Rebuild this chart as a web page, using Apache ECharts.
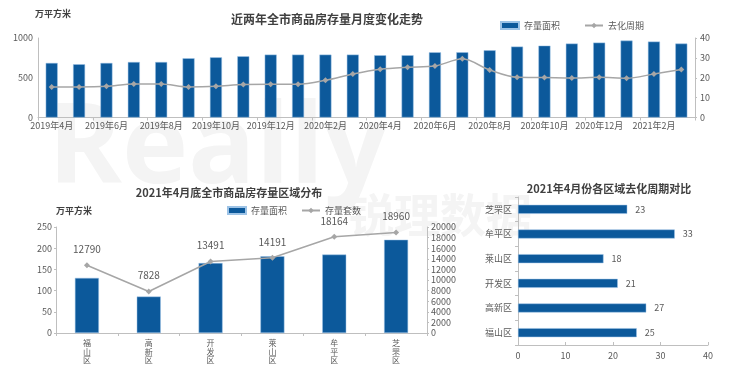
<!DOCTYPE html>
<html><head><meta charset="utf-8">
<script src="https://cdn.jsdelivr.net/npm/echarts@6/dist/echarts.min.js"></script>
<style>html,body{margin:0;padding:0;background:#fff}#c{width:740px;height:386px}</style>
</head><body><div id="c"></div>
<script>
// ---- Data ----
const months = ['2019年4月','2019年5月','2019年6月','2019年7月','2019年8月','2019年9月','2019年10月','2019年11月','2019年12月','2020年1月','2020年2月','2020年3月','2020年4月','2020年5月','2020年6月','2020年7月','2020年8月','2020年9月','2020年10月','2020年11月','2020年12月','2021年1月','2021年2月','2021年3月'];
const stockAreaMonthly = [686,670,686,698,698,745,757,770,791,791,791,791,783,783,820,820,845,892,904,930,942,967,955,930];
const cycleMonthly = [15.4,15.4,15.7,16.9,16.9,15.4,15.7,16.6,16.7,16.7,18.7,21.9,24.3,25.3,25.9,29.5,23.9,20.2,20.1,19.9,20.2,19.7,21.9,24.1];
const districts = ['福山区','高新区','开发区','莱山区','牟平区','芝罘区'];
const stockAreaDistrict = [130,86,165,181,185,220];
const stockUnitsDistrict = [12790,7828,13491,14191,18164,18960];
const cycleDistrict = [25,27,21,18,33,23];

const FONT = '"Noto Sans CJK SC","Noto Sans",sans-serif';
const BLUE = '#0c599b';
const GREY = '#a6a6a6';
const AX = '#bfbfbf';
const TXT = '#595959';
const axisLine = {show:true, lineStyle:{color:AX, width:1}};
const plain = v => String(v);
const lab = {color:TXT, fontSize:9, fontFamily:FONT};
const vlab = {color:TXT, fontSize:9, fontFamily:FONT, formatter:plain};

const chart = echarts.init(document.getElementById('c'), null, {renderer:'canvas'});
chart.setOption({
  animation:false,
  textStyle:{fontFamily:FONT},
  title:[
    {text:'近两年全市商品房存量月度变化走势', left:322, top:8, textAlign:'center',
     textStyle:{fontSize:12, fontWeight:'bold', color:'#404040', fontFamily:FONT}},
    {text:'2021年4月底全市商品房存量区域分布', left:224, top:182, textAlign:'center',
     textStyle:{fontSize:11, fontWeight:'bold', color:'#404040', fontFamily:FONT}},
    {text:'2021年4月份各区域去化周期对比', left:604, top:178, textAlign:'center',
     textStyle:{fontSize:11, fontWeight:'bold', color:'#404040', fontFamily:FONT}}
  ],
  legend:[
    {left:495, top:16, itemWidth:18, itemHeight:7, itemGap:24,
     data:[{name:'存量面积', icon:'rect'}, {name:'去化周期'}],
     textStyle:{fontSize:9, color:TXT, fontFamily:FONT}, selectedMode:false},
    {left:222, top:201, itemWidth:18, itemHeight:7, itemGap:14,
     data:[{name:'存量面积', icon:'rect'}, {name:'存量套数'}],
     textStyle:{fontSize:9, color:TXT, fontFamily:FONT}, selectedMode:false}
  ],
  graphic:[
    {type:'text', left:48, top:95, z:-10, silent:true,
     style:{text:'Really', font:'bold 112px "Open Sans",sans-serif', fill:'#f4f4f4'}},
    {type:'text', left:348, top:192, z:-10, silent:true,
     style:{text:'锐理数据', font:'bold 46px "Noto Sans CJK SC",sans-serif', fill:'#f4f4f4'}},
    {type:'text', left:35, top:9, style:{text:'万平方米', font:'bold 9px "Noto Sans CJK SC",sans-serif', fill:'#404040'}},
    {type:'text', left:56, top:206, style:{text:'万平方米', font:'bold 9px "Noto Sans CJK SC",sans-serif', fill:'#404040'}}
  ],
  grid:[
    {left:38, top:38, width:657, height:79.5},
    {left:56, top:227, width:371, height:106},
    {left:518, top:197, width:190, height:148}
  ],
  xAxis:[
    {type:'category', gridIndex:0, data:months, axisLine:axisLine,
     axisTick:{show:true, interval:1, length:3, lineStyle:{color:AX}},
     axisLabel:Object.assign({interval:1, margin:4}, lab)},
    {type:'category', gridIndex:1, data:districts, axisLine:axisLine,
     axisTick:{show:true, length:3, lineStyle:{color:AX}},
     axisLabel:{margin:6, lineHeight:8.5, fontSize:8, color:TXT, fontFamily:FONT, formatter:v=>v.split('').join('\n')}},
    {type:'value', gridIndex:2, min:0, max:40, interval:10, axisLine:axisLine,
     axisTick:{show:true, inside:true, length:3, lineStyle:{color:AX}},
     splitLine:{show:false}, axisLabel:Object.assign({margin:6}, vlab)}
  ],
  yAxis:[
    {type:'value', gridIndex:0, min:0, max:1000, interval:500, axisLine:axisLine,
     axisTick:{show:false}, splitLine:{show:false}, axisLabel:Object.assign({margin:5}, vlab)},
    {type:'value', gridIndex:0, min:0, max:40, interval:10, position:'right', axisLine:axisLine,
     axisTick:{show:true, length:2, lineStyle:{color:AX}}, splitLine:{show:false}, axisLabel:Object.assign({margin:5}, vlab)},
    {type:'value', gridIndex:1, min:0, max:250, interval:50, axisLine:axisLine,
     axisTick:{show:true, length:2, lineStyle:{color:AX}}, splitLine:{show:false}, axisLabel:Object.assign({margin:4}, vlab)},
    {type:'value', gridIndex:1, min:0, max:20000, interval:2000, position:'right', axisLine:axisLine,
     axisTick:{show:true, length:2, lineStyle:{color:AX}}, splitLine:{show:false}, axisLabel:Object.assign({margin:4}, vlab)},
    {type:'category', gridIndex:2, data:districts, axisLine:axisLine,
     axisTick:{show:true, length:3, lineStyle:{color:AX}},
     axisLabel:Object.assign({margin:6}, lab)}
  ],
  series:[
    {name:'存量面积', type:'bar', xAxisIndex:0, yAxisIndex:0, data:stockAreaMonthly, barWidth:12,
     itemStyle:{color:BLUE, borderColor:'#9dc3e6', borderWidth:0.5}},
    {name:'去化周期', type:'line', xAxisIndex:0, yAxisIndex:1, data:cycleMonthly, smooth:0.3,
     symbol:'diamond', symbolSize:6, lineStyle:{color:GREY, width:1.5}, itemStyle:{color:GREY}},
    {name:'存量面积', type:'bar', xAxisIndex:1, yAxisIndex:2, data:stockAreaDistrict, barWidth:24,
     itemStyle:{color:BLUE, borderColor:'#9dc3e6', borderWidth:0.5}},
    {name:'存量套数', type:'line', xAxisIndex:1, yAxisIndex:3, data:stockUnitsDistrict,
     symbol:'diamond', symbolSize:6, lineStyle:{color:GREY, width:1.5}, itemStyle:{color:GREY},
     label:{show:true, position:'top', distance:8, fontSize:10, color:TXT, fontFamily:FONT, formatter:p=>String(p.value)}},
    {name:'区域去化周期', type:'bar', xAxisIndex:2, yAxisIndex:4, data:cycleDistrict, barWidth:9,
     itemStyle:{color:BLUE, borderColor:'#9dc3e6', borderWidth:0.5},
     label:{show:true, position:'right', distance:8, fontSize:9, color:TXT, fontFamily:FONT}}
  ]
});
</script></body></html>
